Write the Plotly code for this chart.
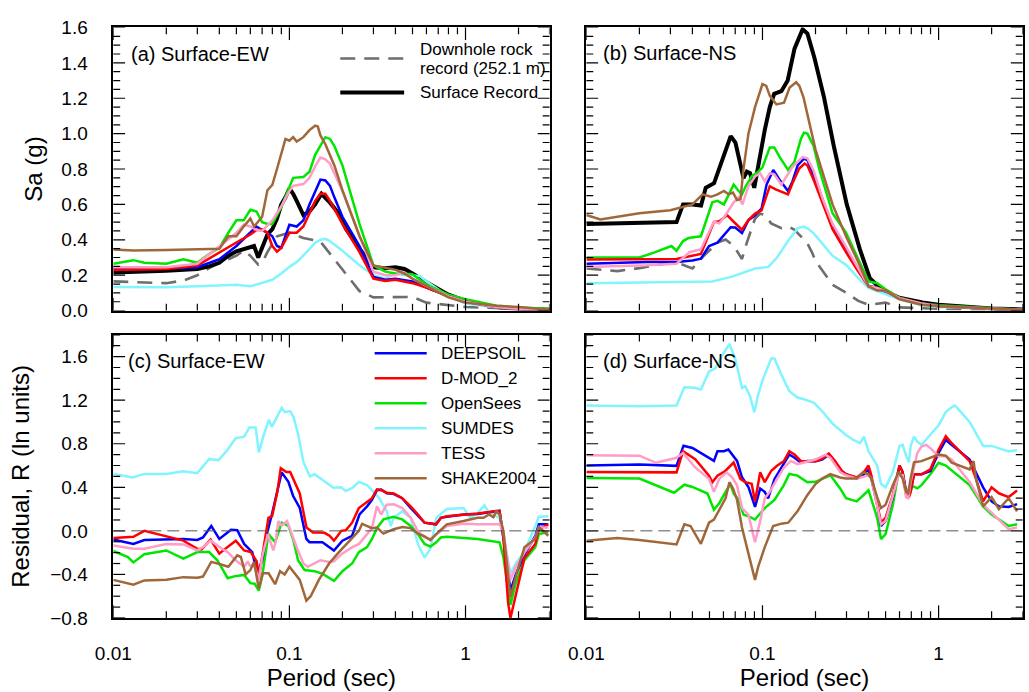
import math
import plotly.graph_objects as go

# ---------------- data (period in s, value) ----------------
# (a) Surface-EW, spectral acceleration Sa (g)
ew_sa_downhole = [(0.01,0.165),(0.015,0.158),(0.02,0.155),(0.025,0.17),(0.03,0.2),(0.035,0.24),(0.04,0.27),(0.045,0.29),(0.05,0.31),(0.055,0.34),(0.06,0.31),(0.0665,0.26),(0.07,0.27),(0.075,0.33),(0.085,0.42),(0.1,0.44),(0.12,0.41),(0.15,0.39),(0.18,0.29),(0.21,0.2),(0.25,0.11),(0.3,0.075),(0.4,0.075),(0.5,0.077),(0.6,0.045),(0.8,0.03),(1,0.02),(2,0.01),(3,0.005)]
ew_sa_surface = [(0.01,0.215),(0.015,0.218),(0.02,0.225),(0.03,0.235),(0.035,0.25),(0.04,0.27),(0.045,0.31),(0.05,0.335),(0.055,0.345),(0.06,0.355),(0.063,0.365),(0.0665,0.30),(0.07,0.36),(0.075,0.43),(0.08,0.46),(0.085,0.52),(0.09,0.60),(0.095,0.64),(0.1,0.69),(0.105,0.66),(0.11,0.62),(0.12,0.54),(0.13,0.56),(0.14,0.60),(0.152,0.66),(0.17,0.61),(0.19,0.55),(0.21,0.46),(0.25,0.35),(0.3,0.245),(0.35,0.24),(0.4,0.245),(0.45,0.235),(0.5,0.21),(0.6,0.16),(0.7,0.12),(0.8,0.09),(1,0.055),(1.5,0.02),(2,0.01),(3,0.005)]
ew_sa_deepsoil = [(0.01,0.238),(0.02,0.238),(0.03,0.245),(0.04,0.29),(0.05,0.365),(0.06,0.44),(0.065,0.475),(0.07,0.455),(0.075,0.44),(0.08,0.42),(0.085,0.365),(0.09,0.355),(0.1,0.485),(0.11,0.475),(0.12,0.51),(0.13,0.60),(0.14,0.675),(0.15,0.74),(0.16,0.735),(0.17,0.705),(0.18,0.64),(0.2,0.53),(0.25,0.365),(0.3,0.19),(0.35,0.175),(0.4,0.18),(0.5,0.165),(0.6,0.13),(0.8,0.08),(1,0.05),(1.5,0.02),(2,0.01),(3,0.005)]
ew_sa_dmod = [(0.01,0.23),(0.02,0.235),(0.03,0.255),(0.04,0.33),(0.05,0.385),(0.06,0.43),(0.065,0.455),(0.07,0.46),(0.075,0.44),(0.08,0.365),(0.085,0.333),(0.09,0.355),(0.1,0.44),(0.11,0.44),(0.12,0.475),(0.13,0.55),(0.14,0.62),(0.15,0.66),(0.16,0.66),(0.17,0.62),(0.18,0.575),(0.2,0.49),(0.25,0.33),(0.3,0.18),(0.35,0.168),(0.4,0.174),(0.5,0.155),(0.6,0.13),(0.8,0.08),(1,0.05),(1.5,0.02),(2,0.01),(3,0.005)]
ew_sa_opensees = [(0.01,0.265),(0.013,0.285),(0.015,0.27),(0.02,0.265),(0.025,0.29),(0.03,0.27),(0.035,0.32),(0.04,0.355),(0.045,0.44),(0.05,0.51),(0.055,0.51),(0.06,0.57),(0.065,0.56),(0.07,0.50),(0.075,0.49),(0.08,0.49),(0.09,0.585),(0.1,0.695),(0.105,0.75),(0.12,0.755),(0.13,0.785),(0.14,0.88),(0.15,0.93),(0.16,0.98),(0.17,0.97),(0.18,0.93),(0.2,0.82),(0.25,0.49),(0.3,0.255),(0.35,0.22),(0.4,0.21),(0.5,0.205),(0.6,0.146),(0.8,0.09),(1,0.064),(1.5,0.027),(2,0.018),(3,0.01)]
ew_sa_sumdes = [(0.01,0.133),(0.02,0.132),(0.03,0.137),(0.05,0.146),(0.06,0.137),(0.07,0.155),(0.08,0.174),(0.09,0.21),(0.1,0.247),(0.11,0.274),(0.12,0.31),(0.13,0.347),(0.14,0.384),(0.15,0.40),(0.16,0.405),(0.17,0.393),(0.2,0.338),(0.25,0.256),(0.3,0.2),(0.35,0.18),(0.4,0.21),(0.45,0.2),(0.5,0.2),(0.55,0.195),(0.6,0.165),(0.8,0.08),(1,0.04),(1.5,0.018),(2,0.01),(3,0.005)]
ew_sa_tess = [(0.01,0.245),(0.02,0.245),(0.03,0.265),(0.04,0.365),(0.05,0.44),(0.055,0.485),(0.06,0.475),(0.065,0.455),(0.07,0.45),(0.08,0.51),(0.09,0.59),(0.1,0.675),(0.105,0.705),(0.12,0.715),(0.13,0.75),(0.14,0.815),(0.15,0.865),(0.16,0.855),(0.17,0.83),(0.2,0.675),(0.25,0.42),(0.3,0.22),(0.35,0.2),(0.4,0.2),(0.45,0.215),(0.5,0.18),(0.6,0.14),(0.8,0.08),(1,0.05),(1.5,0.02),(2,0.01),(3,0.005)]
ew_sa_shake = [(0.01,0.345),(0.013,0.34),(0.02,0.343),(0.03,0.345),(0.04,0.35),(0.045,0.42),(0.05,0.42),(0.055,0.475),(0.06,0.52),(0.063,0.475),(0.07,0.53),(0.075,0.68),(0.08,0.71),(0.085,0.80),(0.09,0.88),(0.095,0.97),(0.1,0.96),(0.105,0.98),(0.11,0.955),(0.12,0.98),(0.13,1.02),(0.14,1.045),(0.145,1.04),(0.15,0.99),(0.16,0.94),(0.18,0.82),(0.2,0.68),(0.25,0.42),(0.3,0.255),(0.35,0.24),(0.4,0.23),(0.45,0.21),(0.5,0.18),(0.6,0.14),(0.8,0.075),(1,0.045),(1.5,0.027),(2,0.02),(2.5,0.01),(3,0.005)]

# (b) Surface-NS, Sa (g)
ns_sa_downhole = [(0.01,0.238),(0.015,0.223),(0.02,0.24),(0.03,0.27),(0.034,0.265),(0.04,0.238),(0.0465,0.31),(0.0555,0.384),(0.0617,0.402),(0.0686,0.365),(0.0765,0.292),(0.0815,0.384),(0.0907,0.52),(0.097,0.548),(0.103,0.54),(0.112,0.493),(0.128,0.466),(0.14,0.475),(0.152,0.457),(0.165,0.42),(0.179,0.384),(0.191,0.329),(0.2,0.28),(0.25,0.146),(0.3,0.10),(0.35,0.055),(0.4,0.033),(0.5,0.045),(0.6,0.018),(1,0.01),(3,0.003)]
ns_sa_surface = [(0.01,0.49),(0.02,0.494),(0.0325,0.50),(0.0354,0.60),(0.04,0.60),(0.0448,0.594),(0.0476,0.694),(0.0531,0.72),(0.0555,0.776),(0.0604,0.867),(0.066,0.986),(0.0702,0.95),(0.0749,0.84),(0.078,0.749),(0.0815,0.785),(0.085,0.776),(0.0898,0.694),(0.0926,0.767),(0.0988,0.93),(0.103,1.02),(0.11,1.15),(0.1165,1.225),(0.128,1.24),(0.139,1.30),(0.152,1.48),(0.169,1.59),(0.18,1.565),(0.197,1.43),(0.223,1.21),(0.254,0.93),(0.301,0.60),(0.357,0.347),(0.407,0.183),(0.483,0.11),(0.598,0.073),(0.81,0.046),(1.0,0.033),(1.5,0.02),(2,0.012),(3,0.006)]
ns_sa_deepsoil = [(0.01,0.265),(0.022,0.274),(0.0325,0.274),(0.04,0.283),(0.0447,0.293),(0.0497,0.365),(0.0555,0.384),(0.066,0.471),(0.07,0.47),(0.0765,0.438),(0.0832,0.511),(0.0907,0.539),(0.0988,0.576),(0.1055,0.712),(0.1151,0.795),(0.125,0.74),(0.1396,0.676),(0.148,0.73),(0.1586,0.822),(0.172,0.859),(0.18,0.85),(0.195,0.76),(0.22,0.62),(0.25,0.48),(0.298,0.35),(0.35,0.235),(0.4,0.14),(0.448,0.128),(0.5,0.11),(0.6,0.07),(0.8,0.04),(1,0.025),(2,0.01),(3,0.004)]
ns_sa_dmod = [(0.01,0.289),(0.022,0.292),(0.0325,0.292),(0.0447,0.32),(0.053,0.50),(0.0568,0.505),(0.063,0.539),(0.0686,0.502),(0.0765,0.457),(0.0832,0.511),(0.0907,0.548),(0.0988,0.566),(0.11,0.703),(0.1188,0.685),(0.13,0.67),(0.1396,0.657),(0.148,0.72),(0.162,0.804),(0.1735,0.831),(0.18,0.82),(0.195,0.74),(0.22,0.6),(0.25,0.46),(0.298,0.33),(0.35,0.22),(0.4,0.137),(0.448,0.128),(0.5,0.113),(0.6,0.07),(0.8,0.04),(1,0.025),(2,0.01),(3,0.004)]
ns_sa_opensees = [(0.01,0.30),(0.02,0.30),(0.0246,0.33),(0.0304,0.365),(0.0325,0.338),(0.0354,0.393),(0.038,0.41),(0.0447,0.42),(0.0519,0.612),(0.0555,0.62),(0.0604,0.60),(0.0686,0.712),(0.0732,0.676),(0.0765,0.657),(0.08,0.70),(0.0868,0.758),(0.0946,0.785),(0.1,0.81),(0.11,0.922),(0.1167,0.922),(0.1253,0.867),(0.1396,0.795),(0.1517,0.84),(0.165,0.968),(0.172,1.005),(0.18,1.0),(0.195,0.93),(0.21,0.80),(0.25,0.55),(0.298,0.44),(0.35,0.29),(0.4,0.165),(0.448,0.155),(0.5,0.12),(0.6,0.073),(0.8,0.04),(1,0.03),(2,0.012),(3,0.005)]
ns_sa_sumdes = [(0.01,0.155),(0.03,0.16),(0.0519,0.165),(0.0672,0.192),(0.0907,0.238),(0.108,0.247),(0.1212,0.301),(0.1396,0.393),(0.1586,0.466),(0.172,0.475),(0.18,0.465),(0.195,0.438),(0.25,0.31),(0.3,0.256),(0.35,0.183),(0.4,0.128),(0.5,0.095),(0.6,0.064),(0.8,0.03),(1,0.02),(3,0.003)]
ns_sa_tess = [(0.01,0.247),(0.022,0.256),(0.0325,0.265),(0.0385,0.33),(0.0447,0.347),(0.053,0.502),(0.0568,0.493),(0.0617,0.539),(0.0686,0.612),(0.0732,0.64),(0.077,0.60),(0.0832,0.703),(0.0907,0.758),(0.097,0.776),(0.103,0.73),(0.11,0.776),(0.1167,0.77),(0.128,0.712),(0.148,0.813),(0.169,0.867),(0.18,0.86),(0.195,0.79),(0.22,0.63),(0.25,0.49),(0.298,0.36),(0.35,0.24),(0.4,0.137),(0.448,0.128),(0.5,0.11),(0.6,0.07),(0.8,0.04),(1,0.025),(2,0.01),(3,0.004)]
ns_sa_shake = [(0.01,0.54),(0.012,0.515),(0.02,0.55),(0.03,0.567),(0.04,0.60),(0.0457,0.657),(0.051,0.643),(0.0555,0.657),(0.0604,0.676),(0.0643,0.657),(0.068,0.667),(0.0717,0.625),(0.075,0.63),(0.078,0.80),(0.0832,1.00),(0.0907,1.15),(0.1,1.28),(0.105,1.27),(0.11,1.215),(0.12,1.165),(0.1325,1.175),(0.1426,1.26),(0.1554,1.29),(0.162,1.27),(0.171,1.205),(0.2,0.91),(0.25,0.60),(0.298,0.42),(0.35,0.274),(0.4,0.137),(0.448,0.113),(0.5,0.113),(0.6,0.064),(0.8,0.033),(1,0.025),(2,0.012),(3,0.005)]

# (c) Surface-EW, residual R (ln units)
ew_r_deepsoil = [(0.01,-0.08),(0.013,-0.12),(0.015,-0.084),(0.02,-0.08),(0.025,-0.075),(0.03,-0.084),(0.0323,-0.06),(0.036,0.045),(0.04,-0.074),(0.0466,0.01),(0.0506,0.006),(0.0553,-0.12),(0.0615,-0.195),(0.0656,-0.39),(0.0701,-0.27),(0.0744,-0.03),(0.0795,0.15),(0.0904,0.537),(0.0987,0.45),(0.105,0.32),(0.1145,0.21),(0.1248,-0.074),(0.13,-0.104),(0.154,-0.104),(0.179,-0.18),(0.2,-0.09),(0.227,-0.045),(0.25,0.15),(0.276,0.225),(0.2945,0.285),(0.314,0.373),(0.332,0.38),(0.357,0.345),(0.39,0.34),(0.437,0.30),(0.488,0.21),(0.537,0.135),(0.585,0.075),(0.68,0.06),(0.725,0.12),(0.783,0.13),(0.975,0.15),(1.17,0.155),(1.47,0.18),(1.56,0.185),(1.64,-0.06),(1.8,-0.55),(1.93,-0.40),(2.16,-0.22),(2.49,-0.045),(2.61,0.06),(2.95,0.06)]
ew_r_dmod = [(0.01,-0.065),(0.013,-0.055),(0.015,0.0),(0.02,-0.05),(0.025,-0.09),(0.03,-0.165),(0.0317,-0.17),(0.0357,-0.08),(0.04,-0.21),(0.0428,-0.17),(0.0456,-0.135),(0.0496,-0.09),(0.0553,-0.18),(0.0604,-0.195),(0.0652,-0.28),(0.067,-0.43),(0.07,-0.24),(0.076,0.12),(0.0798,0.135),(0.0854,0.36),(0.0893,0.576),(0.096,0.54),(0.101,0.54),(0.1064,0.465),(0.1145,0.344),(0.125,0.03),(0.1362,-0.015),(0.1477,-0.015),(0.158,-0.018),(0.169,-0.045),(0.179,-0.09),(0.188,-0.045),(0.197,0.0),(0.209,0.005),(0.227,0.075),(0.248,0.21),(0.276,0.27),(0.2945,0.30),(0.314,0.38),(0.332,0.373),(0.357,0.35),(0.39,0.344),(0.437,0.30),(0.488,0.225),(0.537,0.15),(0.585,0.075),(0.68,0.06),(0.725,0.12),(0.783,0.135),(0.975,0.145),(1.17,0.16),(1.47,0.18),(1.56,0.18),(1.64,-0.06),(1.745,-0.66),(1.8,-0.8),(1.93,-0.60),(2.16,-0.25),(2.49,-0.12),(2.61,0.015),(2.95,0.06)]
ew_r_opensees = [(0.01,-0.185),(0.0121,-0.24),(0.013,-0.29),(0.015,-0.215),(0.02,-0.18),(0.025,-0.255),(0.03,-0.195),(0.035,-0.195),(0.039,-0.27),(0.0446,-0.435),(0.0485,-0.418),(0.0553,-0.405),(0.06,-0.48),(0.0635,-0.485),(0.067,-0.55),(0.07,-0.42),(0.076,-0.03),(0.083,-0.104),(0.0904,0.075),(0.0987,0.045),(0.1055,-0.09),(0.112,-0.27),(0.122,-0.36),(0.139,-0.37),(0.1548,-0.395),(0.1686,-0.435),(0.179,-0.46),(0.188,-0.42),(0.2,-0.37),(0.227,-0.30),(0.248,-0.195),(0.276,-0.15),(0.2945,-0.075),(0.314,0.025),(0.342,0.105),(0.39,0.13),(0.437,0.105),(0.488,0.045),(0.537,-0.03),(0.585,-0.12),(0.632,-0.145),(0.682,-0.105),(0.725,-0.06),(0.783,-0.055),(0.975,-0.065),(1.17,-0.075),(1.56,-0.105),(1.64,-0.24),(1.8,-0.68),(1.93,-0.48),(2.16,-0.27),(2.49,-0.15),(2.61,-0.03),(2.95,-0.01)]
ew_r_sumdes = [(0.01,0.523),(0.0129,0.49),(0.015,0.523),(0.02,0.523),(0.025,0.547),(0.03,0.53),(0.035,0.66),(0.0396,0.65),(0.0446,0.745),(0.0495,0.85),(0.0553,0.865),(0.0593,0.95),(0.0643,0.95),(0.0671,0.72),(0.071,0.865),(0.0764,1.02),(0.0795,0.955),(0.0854,1.045),(0.0904,1.13),(0.0944,1.09),(0.101,1.10),(0.1055,1.045),(0.1116,0.90),(0.1202,0.63),(0.1307,0.50),(0.139,0.52),(0.1477,0.49),(0.1686,0.42),(0.1777,0.395),(0.197,0.40),(0.209,0.365),(0.2278,0.395),(0.2482,0.45),(0.276,0.42),(0.2945,0.373),(0.3207,0.31),(0.3568,0.18),(0.3759,0.045),(0.3909,0.12),(0.437,0.18),(0.4884,0.12),(0.5365,-0.12),(0.5847,-0.245),(0.6317,-0.165),(0.6822,0.12),(0.783,0.20),(0.975,0.21),(1.066,0.12),(1.171,0.165),(1.28,0.235),(1.36,0.165),(1.56,0.12),(1.64,-0.05),(1.8,-0.39),(1.93,-0.30),(2.16,-0.19),(2.49,0.045),(2.61,0.13),(2.95,0.135)]
ew_r_tess = [(0.01,-0.135),(0.013,-0.165),(0.015,-0.165),(0.02,-0.12),(0.025,-0.125),(0.03,-0.18),(0.0323,-0.15),(0.0357,-0.09),(0.041,-0.16),(0.0446,-0.195),(0.0495,-0.27),(0.0553,-0.33),(0.058,-0.28),(0.0593,-0.315),(0.0635,-0.33),(0.067,-0.45),(0.07,-0.24),(0.0754,-0.03),(0.081,-0.18),(0.0835,-0.105),(0.0865,0.09),(0.0904,0.05),(0.097,0.09),(0.104,-0.05),(0.11,-0.15),(0.12,-0.3),(0.127,-0.33),(0.15,-0.27),(0.1686,-0.285),(0.179,-0.28),(0.197,-0.215),(0.2278,-0.15),(0.2482,-0.12),(0.276,-0.03),(0.2945,0.03),(0.314,0.225),(0.3317,0.15),(0.3568,0.24),(0.3909,0.245),(0.437,0.21),(0.4884,0.12),(0.5365,0.0),(0.5847,-0.06),(0.6317,-0.075),(0.6822,-0.03),(0.783,0.045),(0.975,0.065),(1.171,0.06),(1.56,0.06),(1.64,0.0),(1.8,-0.45),(1.93,-0.33),(2.16,-0.2),(2.49,-0.06),(2.61,0.03),(2.95,0.03)]
ew_r_shake = [(0.01,-0.45),(0.0121,-0.48),(0.013,-0.495),(0.015,-0.455),(0.02,-0.45),(0.025,-0.425),(0.03,-0.43),(0.0323,-0.42),(0.036,-0.285),(0.04,-0.305),(0.045,-0.33),(0.0506,-0.225),(0.053,-0.24),(0.0564,-0.40),(0.06,-0.36),(0.063,-0.285),(0.0652,-0.42),(0.067,-0.53),(0.0705,-0.39),(0.0762,-0.39),(0.083,-0.49),(0.0885,-0.37),(0.094,-0.40),(0.1,-0.33),(0.107,-0.39),(0.1145,-0.45),(0.1248,-0.64),(0.132,-0.60),(0.147,-0.45),(0.168,-0.30),(0.19,-0.2),(0.227,-0.06),(0.2482,0.0),(0.2587,0.065),(0.276,0.045),(0.2945,0.025),(0.314,0.03),(0.342,-0.025),(0.391,0.015),(0.437,0.035),(0.488,0.025),(0.537,-0.025),(0.585,-0.05),(0.632,-0.085),(0.682,-0.03),(0.783,0.06),(0.975,0.09),(1.171,0.12),(1.265,0.12),(1.36,0.15),(1.44,0.125),(1.495,0.18),(1.56,0.15),(1.64,0.0),(1.8,-0.61),(1.93,-0.42),(2.16,-0.15),(2.49,-0.074),(2.61,0.036),(2.95,-0.045)]

# (d) Surface-NS, residual R (ln units)
ns_r_deepsoil = [(0.01,0.60),(0.02,0.61),(0.0325,0.597),(0.0356,0.782),(0.04,0.761),(0.0457,0.701),(0.053,0.642),(0.0555,0.731),(0.0604,0.731),(0.064,0.746),(0.0672,0.701),(0.0717,0.642),(0.0765,0.492),(0.0832,0.403),(0.0907,0.22),(0.097,0.388),(0.103,0.358),(0.1076,0.298),(0.1171,0.477),(0.1305,0.597),(0.142,0.701),(0.152,0.671),(0.165,0.627),(0.18,0.642),(0.2,0.64),(0.218,0.655),(0.238,0.70),(0.259,0.63),(0.282,0.55),(0.298,0.52),(0.343,0.485),(0.377,0.52),(0.40,0.565),(0.415,0.48),(0.448,0.24),(0.471,0.045),(0.50,0.09),(0.55,0.31),(0.60,0.60),(0.625,0.54),(0.654,0.36),(0.679,0.33),(0.694,0.36),(0.725,0.52),(0.80,0.52),(0.898,0.55),(1.0,0.715),(1.099,0.835),(1.187,0.79),(1.5,0.655),(1.79,0.40),(2.0,0.27),(2.2,0.225),(2.5,0.22),(2.79,0.245)]
ns_r_dmod = [(0.01,0.54),(0.02,0.54),(0.0325,0.537),(0.0354,0.731),(0.0415,0.657),(0.0497,0.507),(0.0519,0.447),(0.0555,0.507),(0.0617,0.552),(0.0686,0.627),(0.0749,0.477),(0.0798,0.447),(0.0868,0.432),(0.0907,0.269),(0.097,0.537),(0.103,0.447),(0.1122,0.552),(0.121,0.597),(0.1325,0.642),(0.142,0.731),(0.152,0.701),(0.165,0.642),(0.2,0.64),(0.218,0.66),(0.238,0.71),(0.259,0.64),(0.282,0.55),(0.298,0.52),(0.343,0.49),(0.377,0.54),(0.40,0.60),(0.415,0.51),(0.448,0.24),(0.471,0.075),(0.50,0.12),(0.55,0.33),(0.60,0.60),(0.625,0.54),(0.654,0.345),(0.679,0.31),(0.694,0.36),(0.725,0.52),(0.80,0.52),(0.898,0.565),(1.0,0.745),(1.099,0.87),(1.187,0.805),(1.5,0.64),(1.63,0.48),(1.79,0.27),(2.0,0.40),(2.2,0.345),(2.5,0.31),(2.79,0.37)]
ns_r_opensees = [(0.01,0.485),(0.02,0.48),(0.0315,0.35),(0.036,0.424),(0.04,0.403),(0.0487,0.343),(0.053,0.194),(0.0568,0.254),(0.0656,0.432),(0.0686,0.343),(0.0732,0.284),(0.078,0.149),(0.0832,0.134),(0.0907,0.104),(0.103,0.209),(0.117,0.284),(0.132,0.418),(0.142,0.522),(0.158,0.507),(0.18,0.447),(0.2,0.45),(0.218,0.48),(0.243,0.51),(0.276,0.39),(0.298,0.30),(0.343,0.27),(0.40,0.373),(0.448,0.12),(0.471,-0.075),(0.50,-0.03),(0.55,0.24),(0.593,0.54),(0.625,0.51),(0.654,0.33),(0.694,0.42),(0.757,0.39),(0.80,0.42),(0.898,0.52),(1.0,0.625),(1.099,0.60),(1.5,0.42),(1.79,0.225),(2.0,0.15),(2.5,0.045),(2.79,0.06)]
ns_r_sumdes = [(0.01,1.15),(0.02,1.145),(0.0325,1.15),(0.036,1.319),(0.0411,1.313),(0.0447,1.298),(0.0497,1.463),(0.054,1.492),(0.0591,1.612),(0.0649,1.716),(0.07,1.582),(0.0765,1.313),(0.0798,1.328),(0.0849,1.239),(0.0898,1.09),(0.0946,1.253),(0.1011,1.403),(0.1122,1.582),(0.1171,1.582),(0.128,1.433),(0.142,1.283),(0.158,1.224),(0.172,1.209),(0.195,1.179),(0.218,1.10),(0.25,0.985),(0.298,0.88),(0.328,0.835),(0.358,0.805),(0.377,0.865),(0.40,0.73),(0.448,0.60),(0.471,0.43),(0.50,0.40),(0.55,0.54),(0.60,0.78),(0.625,0.79),(0.654,0.69),(0.679,0.63),(0.694,0.78),(0.725,0.865),(0.757,0.82),(0.80,0.79),(0.861,0.85),(0.91,0.895),(1.0,0.97),(1.099,1.09),(1.187,1.135),(1.238,1.15),(1.29,1.12),(1.5,1.0),(1.79,0.78),(2.0,0.78),(2.5,0.73),(2.79,0.74)]
ns_r_tess = [(0.01,0.695),(0.02,0.69),(0.0249,0.625),(0.0325,0.671),(0.0354,0.716),(0.0415,0.582),(0.0497,0.477),(0.053,0.358),(0.0568,0.477),(0.0626,0.537),(0.0672,0.492),(0.0717,0.418),(0.0765,0.209),(0.0832,0.149),(0.0907,-0.104),(0.097,0.089),(0.103,0.298),(0.11,0.358),(0.121,0.477),(0.1325,0.582),(0.145,0.642),(0.158,0.612),(0.172,0.627),(0.2,0.655),(0.228,0.70),(0.243,0.67),(0.276,0.54),(0.298,0.51),(0.343,0.48),(0.40,0.51),(0.415,0.48),(0.448,0.21),(0.471,0.06),(0.50,0.09),(0.55,0.33),(0.593,0.51),(0.625,0.51),(0.654,0.31),(0.672,0.30),(0.694,0.45),(0.757,0.715),(0.80,0.775),(0.85,0.79),(0.898,0.76),(1.0,0.685),(1.099,0.685),(1.187,0.655),(1.5,0.45),(1.79,0.24),(2.0,0.165),(2.5,0.015),(2.79,0.03)]
ns_r_shake = [(0.01,-0.09),(0.015,-0.065),(0.02,-0.085),(0.0325,-0.125),(0.036,0.06),(0.039,0.045),(0.0447,-0.119),(0.0497,0.075),(0.053,0.104),(0.058,0.224),(0.0617,0.298),(0.0649,0.447),(0.068,0.388),(0.0717,0.284),(0.0765,0.03),(0.0815,-0.149),(0.0849,-0.268),(0.0885,-0.373),(0.0907,-0.45),(0.0946,-0.328),(0.103,-0.149),(0.115,0.045),(0.128,0.066),(0.14,0.075),(0.158,0.18),(0.18,0.33),(0.2,0.43),(0.218,0.48),(0.243,0.52),(0.276,0.49),(0.298,0.48),(0.343,0.48),(0.373,0.54),(0.40,0.52),(0.415,0.48),(0.448,0.31),(0.471,0.21),(0.50,0.24),(0.55,0.42),(0.593,0.54),(0.625,0.48),(0.654,0.36),(0.672,0.345),(0.694,0.48),(0.725,0.63),(0.80,0.64),(0.898,0.67),(1.0,0.70),(1.099,0.69),(1.187,0.625),(1.5,0.565),(1.58,0.64),(1.63,0.48),(1.79,0.225),(2.0,0.31),(2.2,0.20),(2.5,0.30),(2.79,0.18)]

model_names = ["DEEPSOIL", "D-MOD_2", "OpenSees", "SUMDES", "TESS", "SHAKE2004"]
model_colors = ["#0000FF", "#FF0000", "#00E600", "#80F4FF", "#FF9CC8", "#A0683A"]
x_tick_vals = [0.01, 0.1, 1]
x_tick_text = ["0.01", "0.1", "1"]

# ---------------- figure ----------------
W, H = 1029, 692
FONT = "Liberation Sans, Arial, Helvetica, sans-serif"
XMAX_LOG = math.log10(3)

def px(x):
    return x / W

def py(y):
    return 1 - y / H

fig = go.Figure()

def add_curve(data, xa, ya, color, width, dash="solid", name=""):
    fig.add_trace(go.Scatter(
        x=[p[0] for p in data], y=[p[1] for p in data],
        mode="lines", name=name, showlegend=False,
        line=dict(color=color, width=width, dash=dash),
        xaxis=xa, yaxis=ya, hoverinfo="skip"))

draw_order = [3, 2, 0, 1, 4, 5]  # SUMDES, OpenSees, DEEPSOIL, D-MOD_2, TESS, SHAKE2004

panels = [
    ("x", "y", ew_sa_downhole, ew_sa_surface,
     [ew_sa_deepsoil, ew_sa_dmod, ew_sa_opensees, ew_sa_sumdes, ew_sa_tess, ew_sa_shake]),
    ("x2", "y2", ns_sa_downhole, ns_sa_surface,
     [ns_sa_deepsoil, ns_sa_dmod, ns_sa_opensees, ns_sa_sumdes, ns_sa_tess, ns_sa_shake]),
    ("x3", "y3", None, None,
     [ew_r_deepsoil, ew_r_dmod, ew_r_opensees, ew_r_sumdes, ew_r_tess, ew_r_shake]),
    ("x4", "y4", None, None,
     [ns_r_deepsoil, ns_r_dmod, ns_r_opensees, ns_r_sumdes, ns_r_tess, ns_r_shake]),
]

for xa, ya, down, surf, models in panels:
    if down is not None:
        add_curve(down, xa, ya, "#6E6E6E", 2.6, "15px,9px", "Downhole rock record (252.1 m)")
        add_curve(surf, xa, ya, "#000000", 4, name="Surface Record")
    for i in draw_order:
        add_curve(models[i], xa, ya, model_colors[i], 2.5, name=model_names[i])

PANEL_W, PANEL_H = 444.0, 292.0
xdom_l = [px(97), px(541)]
xdom_r = [px(578.5), px(1022.5)]
ydom_t = [py(310), py(18)]
ydom_b = [py(627), py(335)]

def xaxis_lab(domain, anchor, labels):
    d = dict(type="log", domain=domain, anchor=anchor, range=[-2, XMAX_LOG],
             showline=True, linecolor="black", linewidth=1.5, mirror=True,
             ticks="", tickmode="array", tickvals=x_tick_vals, ticktext=x_tick_text,
             showticklabels=labels, ticklabelstandoff=17,
             showgrid=False, zeroline=False,
             tickfont=dict(family=FONT, size=19, color="black"))
    if labels:
        d["title"] = dict(text="Period (sec)",
                          font=dict(family=FONT, size=24, color="black"), standoff=6)
    return d

def yaxis_lab(domain, anchor, rng, dtick, labels, title, standoff):
    d = dict(domain=domain, anchor=anchor, range=rng,
             showline=True, linecolor="black", linewidth=1.5, mirror=True,
             ticks="", tick0=0, dtick=dtick, tickformat=".1f",
             showticklabels=labels, ticklabelstandoff=20,
             showgrid=False, zeroline=False,
             tickfont=dict(family=FONT, size=19, color="black"))
    if title:
        d["title"] = dict(text=title, font=dict(family=FONT, size=24, color="black"),
                          standoff=standoff)
    return d

fig.update_layout(
    width=W, height=H,
    margin=dict(l=0, r=0, t=0, b=0),
    paper_bgcolor="white", plot_bgcolor="white",
    showlegend=False,
    xaxis=xaxis_lab(xdom_l, "y", False),
    xaxis2=xaxis_lab(xdom_r, "y2", False),
    xaxis3=xaxis_lab(xdom_l, "y3", True),
    xaxis4=xaxis_lab(xdom_r, "y4", True),
    yaxis=yaxis_lab(ydom_t, "x", [0, 1.6], 0.2, True, "Sa (g)", 12),
    yaxis2=yaxis_lab(ydom_t, "x2", [0, 1.6], 0.2, False, "", 0),
    yaxis3=yaxis_lab(ydom_b, "x3", [-0.8, 1.8], 0.4, True, "Residual, R (ln units)", 14),
    yaxis4=yaxis_lab(ydom_b, "x4", [-0.8, 1.8], 0.4, False, "", 0),
)

# inward tick marks on all four sides (drawn through the axes' own scales)
TICK_STYLE = dict(color="black", width=1.2)
x_major = [0.01, 0.1, 1]
x_minor = [m * d for d in (0.01, 0.1, 1) for m in range(2, 10) if m * d <= 3]

def tick_marks(xa, ya, y_lo, y_hi, y_major_step, y_minor_step):
    for vals, ln in ((x_major, 13), (x_minor, 7)):
        f = ln / PANEL_H
        for v in vals:
            for y0, y1 in ((0, f), (1 - f, 1)):
                fig.add_shape(type="line", xref=xa, yref=f"{ya} domain", x0=v, x1=v,
                              y0=y0, y1=y1, line=TICK_STYLE)
    n = int(round((y_hi - y_lo) / y_minor_step))
    per_major = int(round(y_major_step / y_minor_step))
    for k in range(n + 1):
        v = y_lo + k * y_minor_step
        ln = 12 if (int(round(v / y_minor_step)) % per_major == 0) else 7
        f = ln / PANEL_W
        for x0, x1 in ((0, f), (1 - f, 1)):
            fig.add_shape(type="line", xref=f"{xa} domain", yref=ya, x0=x0, x1=x1,
                          y0=v, y1=v, line=TICK_STYLE)

tick_marks("x", "y", 0, 1.6, 0.2, 0.05)
tick_marks("x2", "y2", 0, 1.6, 0.2, 0.05)
tick_marks("x3", "y3", -0.8, 1.8, 0.4, 0.1)
tick_marks("x4", "y4", -0.8, 1.8, 0.4, 0.1)

# zero reference lines in residual panels
for xa, ya in (("x3", "y3"), ("x4", "y4")):
    fig.add_shape(type="line", xref=f"{xa} domain", yref=ya, x0=0, x1=1, y0=0, y1=0,
                  line=dict(color="#555555", width=1, dash="12px,6px"))

# panel labels
for text, x, y in (("(a) Surface-EW", 113, 45), ("(b) Surface-NS", 593, 44),
                   ("(c) Surface-EW", 110, 362), ("(d) Surface-NS", 593, 362)):
    fig.add_annotation(text=text, x=px(x), y=py(y), xref="paper", yref="paper",
                       xanchor="left", yanchor="middle", showarrow=False,
                       font=dict(family=FONT, size=20, color="black"))

# legend of panel (a)
fig.add_shape(type="line", xref="paper", yref="paper", x0=px(328), x1=px(393),
              y0=py(50), y1=py(50), line=dict(color="#6E6E6E", width=2.6, dash="15px,9px"))
fig.add_shape(type="line", xref="paper", yref="paper", x0=px(328), x1=px(393),
              y0=py(85), y1=py(85), line=dict(color="black", width=4))
for text, y in (("Downhole rock", 41), ("record (252.1 m)", 60), ("Surface Record", 85)):
    fig.add_annotation(text=text, x=px(407), y=py(y), xref="paper", yref="paper",
                       xanchor="left", yanchor="middle", showarrow=False,
                       font=dict(family=FONT, size=17, color="black"))

# legend of panel (c)
for k, (name, color) in enumerate(zip(model_names, model_colors)):
    yy = 354 + k * 25.8
    fig.add_shape(type="line", xref="paper", yref="paper", x0=px(363), x1=px(416),
                  y0=py(yy), y1=py(yy), line=dict(color=color, width=2.5))
    fig.add_annotation(text=name, x=px(428), y=py(yy), xref="paper", yref="paper",
                       xanchor="left", yanchor="middle", showarrow=False,
                       font=dict(family=FONT, size=17, color="black"))

fig.write_html("out.html")
